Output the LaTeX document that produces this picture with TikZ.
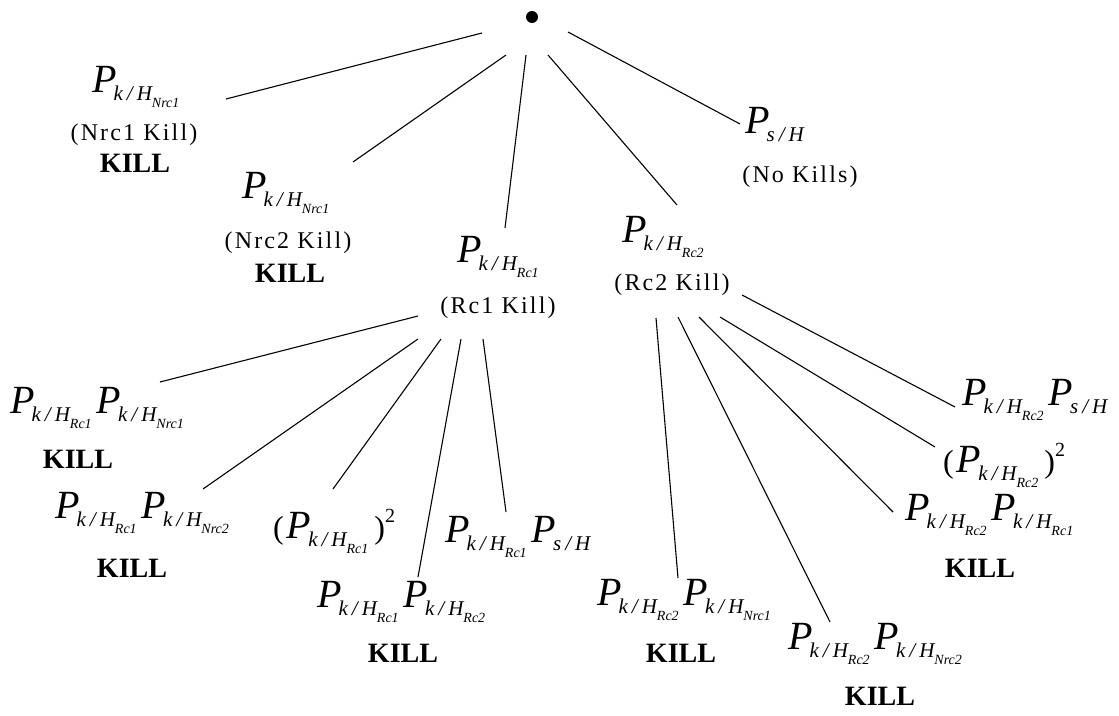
\documentclass[tikz,border=0pt]{standalone}
\usepackage{fontspec}
\setmainfont{Liberation Serif}
\newfontfamily\spacedfont[LetterSpace=9]{Liberation Serif}
\newcommand{\Pk}[1]{\mbox{\fontsize{40}{40}\selectfont\itshape P\kern-3pt\raisebox{-8pt}{\fontsize{21}{21}\selectfont k\kern4pt/\kern4pt H\kern0pt\raisebox{-7pt}{\fontsize{14}{14}\selectfont #1}}}}
\newcommand{\Psh}{\mbox{\fontsize{40}{40}\selectfont\itshape P\kern-3pt\raisebox{-8pt}{\fontsize{21}{21}\selectfont s\kern4pt/\kern4pt H}}}
\newcommand{\Sq}[1]{\mbox{{\fontsize{32}{32}\selectfont(}\kern3pt\Pk{#1}\kern6pt{\fontsize{32}{32}\selectfont)}\raisebox{16pt}{\fontsize{20}{20}\selectfont 2}}}
\begin{document}
\begin{tikzpicture}[x=1pt,y=-1pt,
  frm/.style={anchor=base west,inner sep=0pt},
  lbl/.style={anchor=base,inner sep=0pt,font=\spacedfont\fontsize{24}{24}\selectfont},
  killtxt/.style={anchor=base,inner sep=0pt,font=\fontsize{28}{28}\selectfont\bfseries},
  conn/.style={line width=1.1pt}]
\useasboundingbox (0,0) rectangle (1119,715);
\node[circle,fill,inner sep=0pt,minimum size=12pt] (root) at (532,17) {};
% first level
\node[frm] (n1f) at (92,92) {\Pk{Nrc1}};
\node[lbl] (n1t) at (134,140) {(Nrc1 Kill)};
\node[killtxt] (n1k) at (135,172) {KILL};
\node[frm] (n2f) at (242,198) {\Pk{Nrc1}};
\node[lbl] (n2t) at (288,248) {(Nrc2 Kill)};
\node[killtxt] (n2k) at (290,282) {KILL};
\node[frm] (rc1f) at (457,262) {\Pk{Rc1}};
\node[lbl] (rc1t) at (498,313) {(Rc1 Kill)};
\node[frm] (rc2f) at (622,242) {\Pk{Rc2}};
\node[lbl] (rc2t) at (672,290) {(Rc2 Kill)};
\node[frm] (sf) at (745,133) {\Psh};
\node[lbl] (nkt) at (800,182) {(No Kills)};
% Rc1 children
\node[frm] (a1) at (10,413) {\Pk{Rc1}\hspace{5pt}\Pk{Nrc1}};
\node[killtxt] (a1k) at (78,468) {KILL};
\node[frm] (a2) at (55,518) {\Pk{Rc1}\hspace{5pt}\Pk{Nrc2}};
\node[killtxt] (a2k) at (132,577) {KILL};
\node[frm] (a3) at (273,538) {\Sq{Rc1}};
\node[frm] (a4) at (317,607) {\Pk{Rc1}\hspace{5pt}\Pk{Rc2}};
\node[killtxt] (a4k) at (403,662) {KILL};
\node[frm] (a5) at (445,542) {\Pk{Rc1}\hspace{5pt}\Psh};
% Rc2 children
\node[frm] (b1) at (597,605) {\Pk{Rc2}\hspace{5pt}\Pk{Nrc1}};
\node[killtxt] (b1k) at (681,662) {KILL};
\node[frm] (b2) at (788,649) {\Pk{Rc2}\hspace{5pt}\Pk{Nrc2}};
\node[killtxt] (b2k) at (880,705) {KILL};
\node[frm] (b3) at (905,520) {\Pk{Rc2}\hspace{5pt}\Pk{Rc1}};
\node[killtxt] (b3k) at (980,577) {KILL};
\node[frm] (b4) at (943,472) {\Sq{Rc2}};
\node[frm] (b5) at (962,405) {\Pk{Rc2}\hspace{5pt}\Psh};
% connectors from root
\draw[conn] ([shift={(-50,16)}]root.center) -- ([shift={(134,7)}]n1f.base west);
\draw[conn] ([shift={(-26,38)}]root.center) -- ([shift={(111,-36)}]n2f.base west);
\draw[conn] ([shift={(-6,38)}]root.center) -- ([shift={(48,-34)}]rc1f.base west);
\draw[conn] ([shift={(16,38)}]root.center) -- ([shift={(55,-37)}]rc2f.base west);
\draw[conn] ([shift={(36,15)}]root.center) -- ([shift={(-5,-9)}]sf.base west);
% connectors from Rc1
\draw[conn] ([shift={(-80,3)}]rc1t.base) -- ([shift={(150,-31)}]a1.base west);
\draw[conn] ([shift={(-80,26)}]rc1t.base) -- ([shift={(148,-29)}]a2.base west);
\draw[conn] ([shift={(-57,26)}]rc1t.base) -- ([shift={(60,-49)}]a3.base west);
\draw[conn] ([shift={(-37,26)}]rc1t.base) -- ([shift={(101,-30)}]a4.base west);
\draw[conn] ([shift={(-15,26)}]rc1t.base) -- ([shift={(61,-30)}]a5.base west);
% connectors from Rc2
\draw[conn] ([shift={(70,5)}]rc2t.base) -- ([shift={(-7,2)}]b5.base west);
\draw[conn] ([shift={(48,27)}]rc2t.base) -- ([shift={(-8,-25)}]b4.base west);
\draw[conn] ([shift={(27,27)}]rc2t.base) -- ([shift={(-12,-8)}]b3.base west);
\draw[conn] ([shift={(6,27)}]rc2t.base) -- ([shift={(42,-27)}]b2.base west);
\draw[conn] ([shift={(-16,28)}]rc2t.base) -- ([shift={(81,-27)}]b1.base west);
\end{tikzpicture}
\end{document}
